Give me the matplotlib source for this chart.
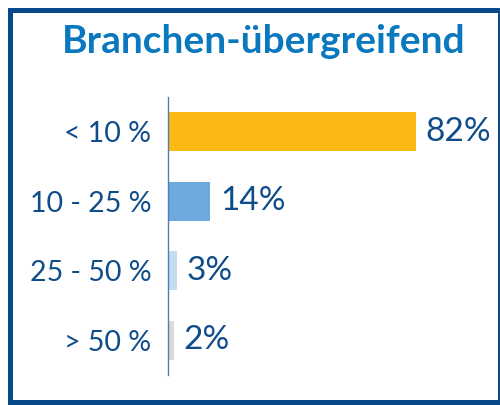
import matplotlib.pyplot as plt
from matplotlib.patches import Rectangle

# Daten
categories = ['< 10 %', '10 - 25 %', '25 - 50 %', '> 50 %']
values = [82, 14, 3, 2]
bar_colors = ['#FDB913', '#6FA8DC', '#C6DBF2', '#DADADA']
title = 'Branchen-übergreifend'

TEXT_COLOR = '#0F4C8A'
plt.rcParams['font.family'] = ['Lato', 'DejaVu Sans']

fig = plt.figure(figsize=(5, 4.05), dpi=100)
ax = fig.add_axes([0.336, 0.074, 0.604, 0.6864])

y = range(len(categories))
ax.barh(y, values, height=0.56, color=bar_colors)
ax.set_xlim(0, 100)
ax.set_ylim(len(categories) - 0.5, -0.5)

# Werte rechts neben den Balken
for i, v in enumerate(values):
    ax.annotate(f'{v}%', (v, i), xytext=(7, 0), textcoords='offset points',
                va='center', ha='left', fontsize=24, color=TEXT_COLOR)

ax.set_yticks(list(y))
ax.set_yticklabels(categories, fontsize=20.5, color=TEXT_COLOR)
ax.tick_params(axis='y', length=0, pad=12)
ax.set_xticks([])
for s in ['top', 'right', 'bottom']:
    ax.spines[s].set_visible(False)
ax.spines['left'].set_color('#4F7FB5')
ax.spines['left'].set_linewidth(1.0)

fig.text(0.527, 0.897, title, ha='center', va='center', fontsize=28,
         fontweight='bold', color='#0A78BE')

# Rahmen
fig.patches.append(Rectangle((0.019, 0.0062), 0.98, 0.9703, transform=fig.transFigure,
                             fill=False, edgecolor='#064A8A', linewidth=3.6))

plt.savefig('out.png', dpi=100)
